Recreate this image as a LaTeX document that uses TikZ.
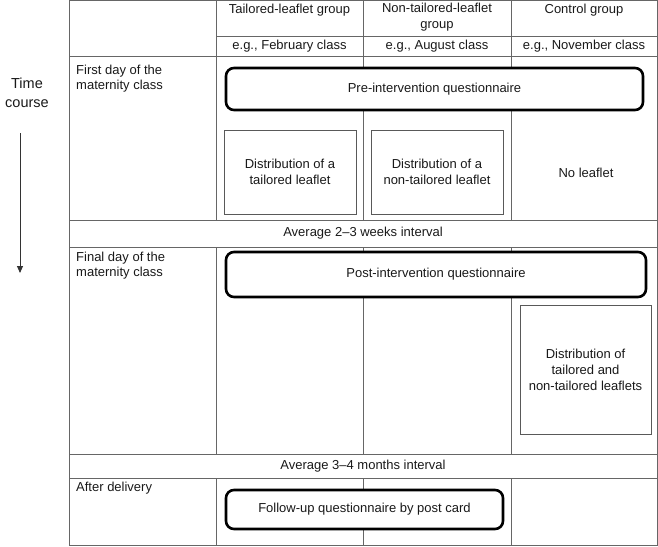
\documentclass[tikz,border=0pt]{standalone}
\usepackage{fontspec}
\setmainfont{Liberation Sans}
\usepackage{xcolor}
\usetikzlibrary{arrows.meta, positioning}

\begin{document}
\begin{tikzpicture}[x=1pt, y=-1pt,
		rule/.style={draw=black!60, line width=0.9pt},
		txt/.style={font=\fontsize{13}{16}\selectfont, text=black!90, inner sep=0pt, align=center},
		rowlabel/.style={txt, align=left, anchor=west, font=\fontsize{13}{15}\selectfont},
		quest/.style={txt, draw=black, fill=white, line width=2.6pt, rounded corners=8pt},
		leaflet/.style={txt, draw=black!65, fill=white, line width=0.9pt}]
		\useasboundingbox (0,0) rectangle (658,546);
		% table lines
		\draw[rule] (69,0.5) rectangle (657,545);
		\draw[rule] (216,36) -- (657,36);
		\foreach \y in {56,220,247,454,478}
			\draw[rule] (69,\y) -- (657,\y);
		\foreach \x in {216,363,511} {
			\draw[rule] (\x,0.5) -- (\x,220);
			\draw[rule] (\x,247) -- (\x,454);
			\draw[rule] (\x,478) -- (\x,545);
		}
		% time axis
		\node[txt, font=\fontsize{14.5}{19}\selectfont] (time) at (27,92.5) {Time\\course};
		\coordinate (tstart) at (20,133);
		\coordinate (tend) at (20,273);
		\draw[black!80, line width=0.9pt, -{Triangle[width=6pt, length=7pt]}] (tstart) -- (tend);
		% header
		\node[txt] (tail) at (289.5,10) {Tailored-leaflet group};
		\node[txt] (nontail) at (437,17) {Non-tailored-leaflet\\group};
		\node[txt] (ctrl) at (584,10) {Control group};
		\node[txt] (feb) at (289.5,46) {e.g., February class};
		\node[txt] (aug) at (437,46) {e.g., August class};
		\node[txt] (nov) at (584,46) {e.g., November class};
		% row labels
		\node[rowlabel] (first) at (76,78.5) {First day of the\\maternity class};
		\node[rowlabel] (final) at (76,265.5) {Final day of the\\maternity class};
		\node[rowlabel] (after) at (76,488) {After delivery};
		\node[txt] (gap1) at (363,233.5) {Average 2--3 weeks interval};
		\node[txt] (gap2) at (363,466) {Average 3--4 months interval};
		% first day
		\node[quest, minimum width=417pt, minimum height=42pt] (pre) at (434.5,89) {Pre-intervention questionnaire};
		\node[leaflet, minimum width=132pt, minimum height=84pt] (disttail) at (290,172) {Distribution of a\\tailored leaflet};
		\node[leaflet, minimum width=132pt, minimum height=84pt] (distnon) at (437,172) {Distribution of a\\non-tailored leaflet};
		\node[txt] (noleaf) at (586,173) {No leaflet};
		% final day
		\node[quest, minimum width=420pt, minimum height=45pt] (post) at (436,274.5) {Post-intervention questionnaire};
		\node[leaflet, minimum width=131pt, minimum height=129pt] (distboth) at (585.5,369.5) {Distribution of\\tailored and\\non-tailored leaflets};
		% after delivery
		\node[quest, minimum width=277pt, minimum height=39pt] (follow) at (364.5,509.5) {Follow-up questionnaire by post card};
	\end{tikzpicture}
\end{document}
